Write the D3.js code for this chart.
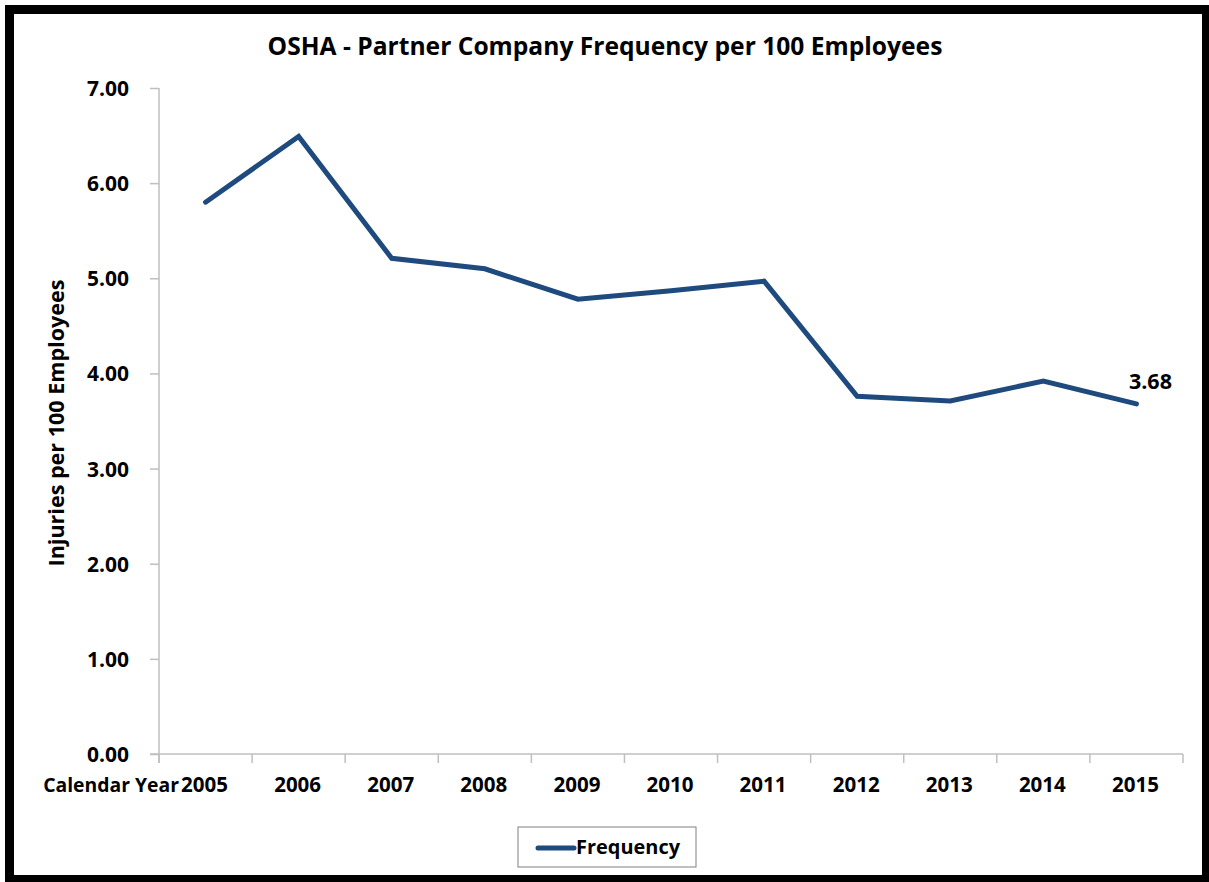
<!DOCTYPE html>
<html>
<head>
<meta charset="utf-8">
<script src="https://cdn.jsdelivr.net/npm/d3@7"></script>
<style>
html,body{margin:0;padding:0;background:#fff;}
svg{display:block;}
text{font-family:"Open Sans",Lato,sans-serif;font-weight:bold;fill:#000;}
</style>
</head>
<body>
<svg id="chart" width="1209" height="882"></svg>
<script>
const years = ["2005","2006","2007","2008","2009","2010","2011","2012","2013","2014","2015"];
const frequency = [5.80, 6.49, 5.21, 5.10, 4.78, 4.87, 4.97, 3.76, 3.71, 3.92, 3.68];
const yTicks = [0, 1, 2, 3, 4, 5, 6, 7];
const titleText = "OSHA - Partner Company Frequency per 100 Employees";
const yTitle = "Injuries per 100 Employees";
const xTitle = "Calendar Year";
const seriesName = "Frequency";
const lastLabel = "3.68";

const svg = d3.select("#chart");
const lineColor = "#1f4a7e";
const axisColor = "#bfbfbf";

// frame
svg.append("rect").attr("x",5).attr("y",5).attr("width",1204).attr("height",877).attr("fill","#000");
svg.append("rect").attr("x",14).attr("y",14).attr("width",1188).attr("height",861).attr("fill","#fff");

const x = d3.scaleBand().domain(years).range([159,1183]).padding(0);
const y = d3.scaleLinear().domain([0,7]).range([754,88]);

function fitSize(str, w, base){
  const tmp = svg.append("text").attr("font-size",base).text(str);
  const len = tmp.node().getComputedTextLength();
  tmp.remove();
  return base*w/len;
}

// title
svg.append("text").attr("x",605).attr("y",55).attr("text-anchor","middle")
  .attr("font-size",fitSize(titleText,675,22)).text(titleText);

// y axis
const tickFs = fitSize("0.00",42,18);
const yAxis = d3.axisLeft(y).tickValues(yTicks).tickFormat(d3.format(".2f")).tickSize(9).tickPadding(21);
const yg = svg.append("g").attr("transform","translate(159,0)").call(yAxis);
yg.select(".domain").remove();
yg.selectAll(".tick line").attr("stroke",axisColor).attr("stroke-width",1.5);
yg.selectAll(".tick text").attr("font-size",tickFs).attr("font-family","'Open Sans',Lato,sans-serif")
  .attr("font-weight","bold").attr("fill","#000").attr("dy","0.36em");
svg.append("line").attr("x1",159).attr("x2",159).attr("y1",y(7)).attr("y2",763).attr("stroke",axisColor).attr("stroke-width",1.5);

// x axis
svg.append("line").attr("x1",150).attr("x2",1183).attr("y1",754).attr("y2",754).attr("stroke",axisColor).attr("stroke-width",1.5);
const edges = years.map(d => x(d)).concat([x(years[years.length-1]) + x.bandwidth()]);
svg.append("g").selectAll("line").data(edges).join("line")
  .attr("x1",d=>d).attr("x2",d=>d).attr("y1",754).attr("y2",763)
  .attr("stroke",axisColor).attr("stroke-width",1.5);
const yearFs = fitSize("2005",47,18);
svg.append("g").selectAll("text").data(years).join("text")
  .attr("x",d=>x(d)+x.bandwidth()/2 - 1).attr("y",792).attr("text-anchor","middle").attr("font-size",yearFs).text(d=>d);
svg.append("text").attr("x",179).attr("y",792).attr("text-anchor","end")
  .attr("font-size",fitSize(xTitle,136,18)).text(xTitle);

// y title
svg.append("text").attr("transform","translate(64,423) rotate(-90)").attr("text-anchor","middle")
  .attr("font-size",fitSize(yTitle,287,18)).text(yTitle);

// line
const line = d3.line().x((d,i)=>x(years[i])+x.bandwidth()/2).y(d=>y(d));
svg.append("path").datum(frequency).attr("d",line).attr("fill","none").attr("stroke",lineColor)
  .attr("stroke-width",5).attr("stroke-linejoin","miter").attr("stroke-linecap","round");

// data label
const li = frequency.length-1;
svg.append("text").attr("x",x(years[li])+x.bandwidth()/2+14).attr("y",y(frequency[li])-15)
  .attr("text-anchor","middle").attr("font-size",fitSize(lastLabel,43,18)).text(lastLabel);

// legend
svg.append("rect").attr("x",518).attr("y",827).attr("width",178).attr("height",40).attr("fill","#fff").attr("stroke","#808080").attr("stroke-width",1);
svg.append("line").attr("x1",538).attr("x2",574).attr("y1",848).attr("y2",848).attr("stroke",lineColor).attr("stroke-width",5).attr("stroke-linecap","round");
svg.append("text").attr("x",576).attr("y",854).attr("font-size",fitSize(seriesName,104,18)).text(seriesName);
</script>
</body>
</html>
